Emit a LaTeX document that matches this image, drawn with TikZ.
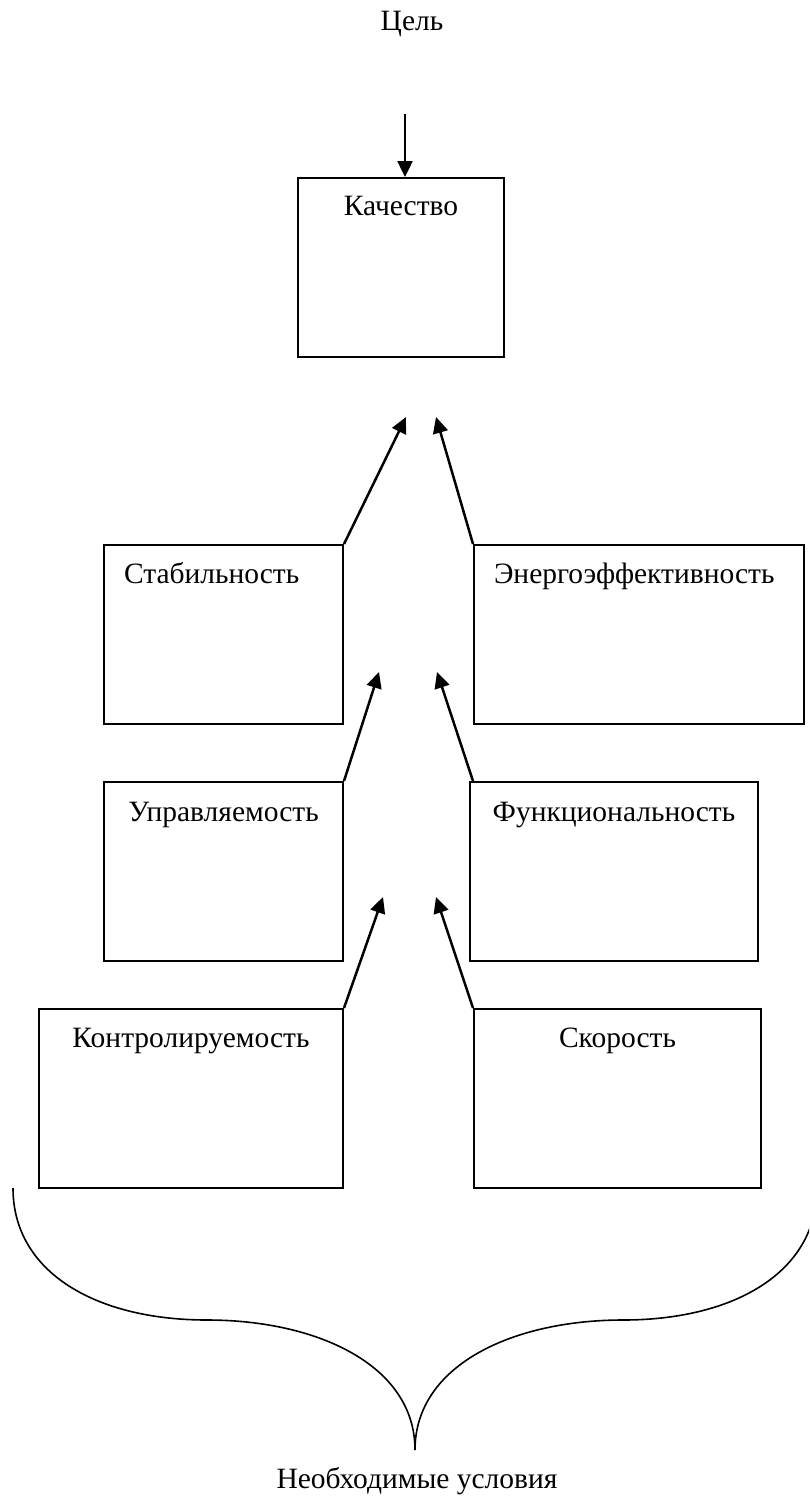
\documentclass[tikz,border=0pt]{standalone}
\usepackage{fontspec}
\setmainfont{Liberation Serif}
\usetikzlibrary{arrows.meta}

\tikzset{
  box/.style={draw=black, line width=2pt, anchor=north west, inner ysep=0pt,
              font=\fontsize{29.5}{35}\selectfont},
  cbox/.style={box, inner xsep=0pt, align=center},
  lbox/.style={box, inner xsep=20pt, align=left},
  arr/.style={line width=2.5pt, -{Triangle[length=16pt,width=15pt]}},
  caption/.style={anchor=base, inner sep=0pt, font=\fontsize{29.5}{35}\selectfont},
  bracepath/.style={line width=1.6pt}
}

\begin{document}
\begin{tikzpicture}[x=1pt,y=-1pt]
  \useasboundingbox (0,0) rectangle (809,1499);
  \fill[white] (0,0) rectangle (809,1499);
  \clip (0,0) rectangle (809,1499);

  % headings
  \node[caption] (goal) at (412,30) {Цель};
  \node[caption] (need) at (417,1488) {Необходимые условия};

  % boxes: text height = baseline - top, text depth = bottom - baseline
  \node[cbox, text width=206pt, text height=37pt, text depth=142pt] (kach) at (297,177) {Качество};
  \node[lbox, text width=199pt, text height=38pt, text depth=141pt] (stab) at (103,544) {Стабильность};
  \node[lbox, text width=290pt, text height=38pt, text depth=141pt] (energ) at (473,544) {Энергоэффективность};
  \node[cbox, text width=239pt, text height=39pt, text depth=140pt] (upr) at (103,781) {Управляемость};
  \node[cbox, text width=288pt, text height=39pt, text depth=140pt] (func) at (469,781) {Функциональность};
  \node[cbox, text width=304pt, text height=38pt, text depth=141pt] (kontr) at (38,1008) {Контролируемость};
  \node[cbox, text width=287pt, text height=38pt, text depth=141pt] (skor) at (473,1008) {Скорость};

  % free arrow ends
  \coordinate (top) at (405,114);
  \coordinate (t1l) at (406,417);
  \coordinate (t1r) at (436,417);
  \coordinate (t2l) at (379,672);
  \coordinate (t2r) at (437,672);
  \coordinate (t3l) at (383,897);
  \coordinate (t3r) at (436,897);

  % arrows
  \draw[arr] (top) -- (top |- kach.north);
  \draw[arr] (stab.north east) -- (t1l);
  \draw[arr] (energ.north west) -- (t1r);
  \draw[arr] (upr.north east) -- (t2l);
  \draw[arr] ([xshift=4pt]func.north west) -- (t2r);
  \draw[arr] (kontr.north east) -- (t3l);
  \draw[arr] (skor.north west) -- (t3r);

  % curly brace under the lower boxes
  \coordinate (bl) at (13,1188);
  \coordinate (bml) at (207,1320);
  \coordinate (tip) at (415,1450);
  \coordinate (bmr) at (623,1320);
  \coordinate (br) at (817,1188);
  \draw[bracepath] (bl) .. controls (13,1273) and (97,1320) .. (bml)
                        .. controls (317,1320) and (415,1365) .. (tip)
                        .. controls (415,1365) and (513,1320) .. (bmr)
                        .. controls (733,1320) and (817,1273) .. (br);
\end{tikzpicture}
\end{document}
